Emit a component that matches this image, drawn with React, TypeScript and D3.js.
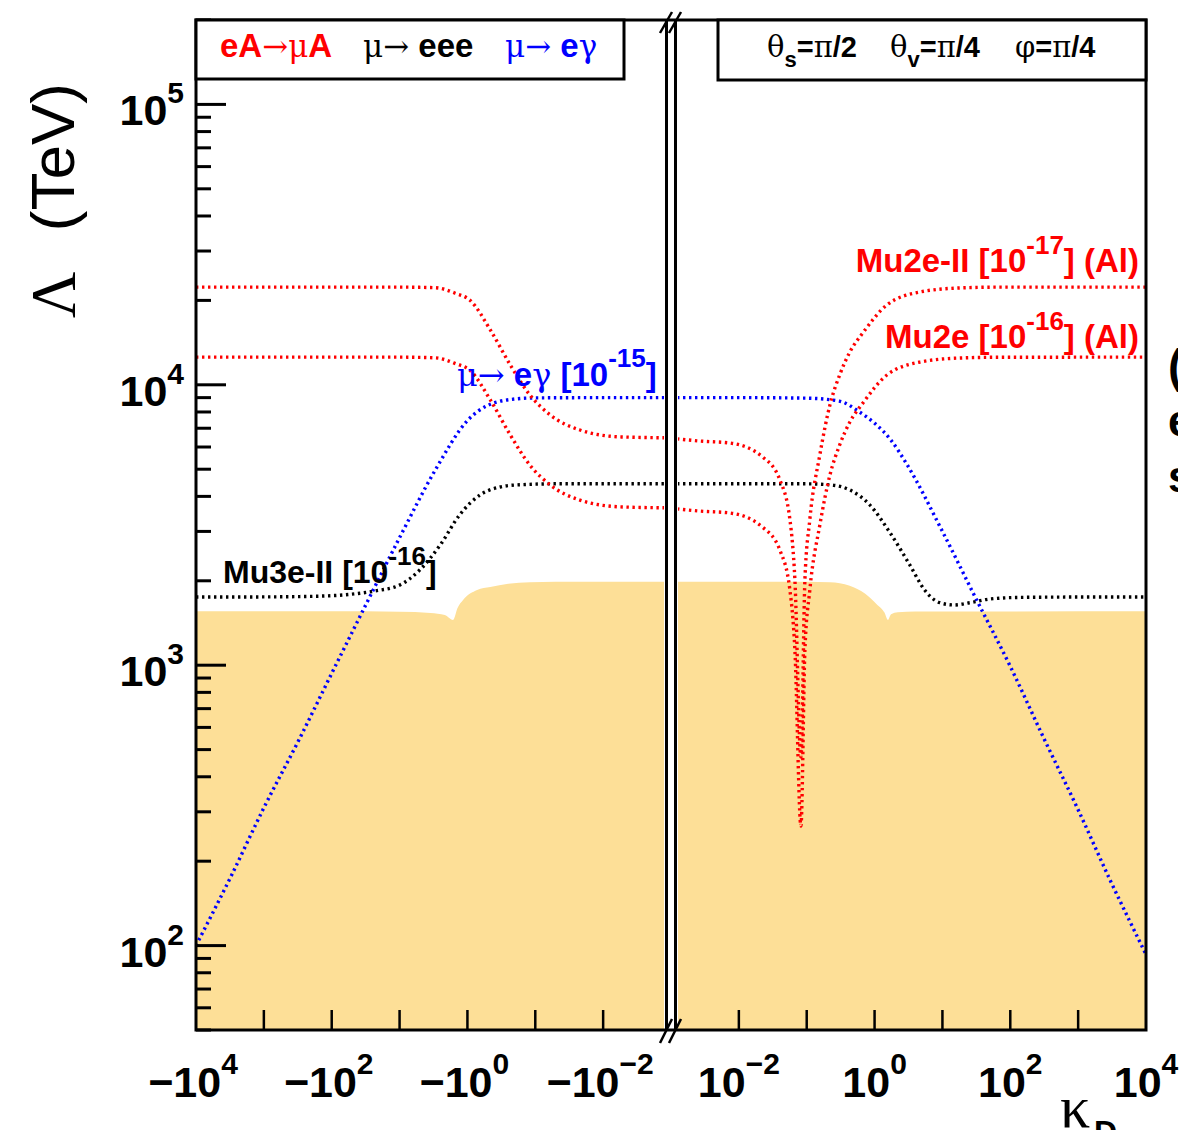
import React from 'react';
import * as d3 from 'd3';

// ---------- data (kappa_D, Lambda in TeV) ----------
const muEgammaLeft: [number, number][] = [
  [-1e4, 100], [-3e3, 178], [-1e3, 310], [-3e2, 545], [-1e2, 935], [-30, 1680], [-10, 2850],
  [-3, 4950], [-1, 7450], [-0.5, 8450], [-0.2, 8900], [-0.1, 8980], [-0.01, 9000], [-1e-3, 9000],
];
const muEgammaRight: [number, number][] = [
  [1e-3, 9000], [0.01, 9000], [0.1, 8960], [0.3, 8750], [0.6, 8000], [1, 7300], [1.7, 6400],
  [3, 5200], [10, 3000], [30, 1760], [100, 990], [300, 560], [1e3, 305], [3e3, 170], [1e4, 93],
];
const mu3eLeft: [number, number][] = [
  [-1e4, 1750], [-1e3, 1752], [-200, 1760], [-53, 1790], [-23, 1840], [-10, 1930], [-5, 2190],
  [-2.5, 2690], [-1.3, 3440], [-0.65, 4050], [-0.33, 4320], [-0.17, 4400], [-0.05, 4435], [-1e-3, 4440],
];
const mu3eRight: [number, number][] = [
  [1e-3, 4440], [0.1, 4435], [0.25, 4380], [0.43, 4220], [0.85, 3730], [1.7, 2960], [3.3, 2280],
  [5.5, 1850], [9.2, 1670], [15, 1640], [25, 1670], [50, 1722], [140, 1745], [1e3, 1750], [1e4, 1750],
];
const mu2eIILeft: [number, number][] = [
  [-1e4, 22300], [-10, 22300], [-3, 22200], [-1.5, 21200], [-0.91, 20000], [-0.46, 15700],
  [-0.235, 11800], [-0.12, 9200], [-0.06, 7800], [-0.022, 6900], [-0.0056, 6520], [-1e-3, 6470],
];
const mu2eIIRight: [number, number][] = [
  [1e-3, 6450], [0.00267, 6300], [0.0074, 6200], [0.0226, 5520], [0.0403, 4570], [0.0566, 3300],
  [0.067, 2010], [0.0822, 470], [0.094, 2010], [0.111, 3300], [0.156, 5620], [0.22, 8480],
  [0.306, 10840], [0.433, 13100], [0.67, 15300], [1.52, 19270], [4.65, 21430], [18, 22150],
  [70, 22300], [1e4, 22300],
];
const mu2eLeft: [number, number][] = [
  [-1e4, 12550], [-10, 12550], [-3, 12480], [-1.5, 11900], [-0.91, 11250], [-0.46, 8830],
  [-0.235, 6640], [-0.12, 5170], [-0.06, 4390], [-0.022, 3880], [-0.0056, 3670], [-1e-3, 3640],
];
const mu2eRight: [number, number][] = [
  [1e-3, 3630], [0.00267, 3545], [0.0074, 3490], [0.0226, 3100], [0.0403, 2570], [0.0566, 1850],
  [0.067, 1130], [0.0822, 267], [0.094, 1130], [0.111, 1850], [0.156, 3160], [0.22, 4770],
  [0.306, 6100], [0.433, 7370], [0.67, 8600], [1.52, 10840], [4.65, 12050], [18, 12460],
  [70, 12540], [1e4, 12550],
];
const excludedLeft: [number, number][] = [
  [-1e4, 1556], [-100, 1556], [-10, 1552], [-3.5, 1535], [-2.15, 1510], [-1.63, 1450], [-1.4, 1600],
  [-1.16, 1708], [-0.72, 1853], [-0.46, 1900], [-0.25, 1950], [-0.12, 1975], [-0.05, 1985], [-1e-3, 1986],
];
const excludedRight: [number, number][] = [
  [1e-3, 1986], [0.1, 1985], [0.22, 1975], [0.43, 1920], [0.72, 1800], [1.1, 1640], [1.4, 1540],
  [1.57, 1450], [1.75, 1520], [2.2, 1545], [4, 1554], [1e4, 1556],
];

const yMajor = [1e2, 1e3, 1e4, 1e5];
const yMajorExp = ['2', '3', '4', '5'];
const xMajorNeg = [1e3, 1e2, 1e1, 1e0, 1e-1, 1e-2];
const xMajorPos = [1e-2, 1e-1, 1e0, 1e1, 1e2, 1e3];
const xLabelNeg = [[1e4, '4'], [1e2, '2'], [1e0, '0'], [1e-2, '−2']] as [number, string][];
const xLabelPos = [[1e-2, '−2'], [1e0, '0'], [1e2, '2'], [1e4, '4']] as [number, string][];

const SANS = "'Liberation Sans', Arial, Helvetica, sans-serif";
const SERIF = "'Liberation Serif', 'DejaVu Serif', serif";
const SYM = "'DejaVu Serif', 'Liberation Serif', serif";
const FILL = '#fddf97';

export default function App() {
  const L = 196, R = 1146, T = 20, B = 1030, BX = 671;
  const xNeg = d3.scaleLog().domain([1e4, 1e-3]).range([L, BX]);
  const xPos = d3.scaleLog().domain([1e-3, 1e4]).range([BX, R]);
  const xs = (k: number) => (k < 0 ? xNeg(-k) : xPos(k));
  const y = d3.scaleLog().domain([50, 2e5]).range([B, T]);

  const line = d3.line<[number, number]>().x(d => xs(d[0])).y(d => y(d[1])).curve(d3.curveMonotoneX);
  const area = d3.area<[number, number]>().x(d => xs(d[0])).y0(B).y1(d => y(d[1])).curve(d3.curveMonotoneX);

  const minorY: number[] = [];
  for (let e = 1; e <= 5; e++) for (let m = 2; m <= 9; m++) {
    const v = m * Math.pow(10, e);
    if (v >= 50 && v <= 2e5) minorY.push(v);
  }

  const dot = { fill: 'none', strokeWidth: 3.4, strokeDasharray: '2.4 3.6' };
  const curves: [[number, number][], string][] = [
    [muEgammaLeft, '#0000ff'], [muEgammaRight, '#0000ff'],
    [mu3eLeft, '#000'], [mu3eRight, '#000'],
    [mu2eIILeft, '#ff0000'], [mu2eIIRight, '#ff0000'],
    [mu2eLeft, '#ff0000'], [mu2eRight, '#ff0000'],
  ];

  return (
    <svg width={1195} height={1130} style={{ position: 'absolute', left: 0, top: 0, background: '#fff' }}
      fontFamily={SANS}>
      <defs>
        <clipPath id="plot"><rect x={L} y={T} width={R - L} height={B - T} /></clipPath>
        <clipPath id="edge"><rect x={1150} y={300} width={28} height={250} /></clipPath>
      </defs>
      <rect x={0} y={0} width={1195} height={1130} fill="#fff" />
      <g clipPath="url(#plot)">
        <path d={area(excludedLeft) || ''} fill={FILL} />
        <path d={area(excludedRight) || ''} fill={FILL} />
        {curves.map(([data, c], i) => (
          <path key={i} d={line(data) || ''} stroke={c} {...dot} />
        ))}
      </g>
      {/* axis break */}
      <rect x={664} y={T} width={14} height={B - T} fill="#fff" />
      <line x1={666.5} x2={666.5} y1={T} y2={B} stroke="#000" strokeWidth={3} />
      <line x1={675.5} x2={675.5} y1={T} y2={B} stroke="#000" strokeWidth={3} />
      {[0, 9].map(o => (
        <g key={o}>
          <line x1={660 + o} y1={33} x2={672 + o} y2={12} stroke="#000" strokeWidth={2.5} />
          <line x1={660 + o} y1={1043} x2={672 + o} y2={1019} stroke="#000" strokeWidth={2.5} />
        </g>
      ))}
      {/* frame */}
      <rect x={L} y={T} width={R - L} height={B - T} fill="none" stroke="#000" strokeWidth={3} />
      {/* y ticks */}
      {yMajor.map(v => <line key={'M' + v} x1={L} x2={L + 30} y1={y(v)} y2={y(v)} stroke="#000" strokeWidth={3} />)}
      {minorY.map(v => <line key={'m' + v} x1={L} x2={L + 15} y1={y(v)} y2={y(v)} stroke="#000" strokeWidth={3} />)}
      {yMajor.map((v, i) => (
        <text key={'yl' + v} x={184} y={y(v) + 21} textAnchor="end" fontSize={43} fontWeight="bold">
          10<tspan dy={-22} fontSize={30}>{yMajorExp[i]}</tspan>
        </text>
      ))}
      {/* x ticks */}
      {xMajorNeg.map(v => <line key={'xn' + v} x1={xs(-v)} x2={xs(-v)} y1={B} y2={B - 20} stroke="#000" strokeWidth={2.5} />)}
      {xMajorPos.map(v => <line key={'xp' + v} x1={xs(v)} x2={xs(v)} y1={B} y2={B - 20} stroke="#000" strokeWidth={2.5} />)}
      {xLabelNeg.map(([v, e]) => (
        <text key={'xln' + v} x={xs(-v) - 3} y={1097} textAnchor="middle" fontSize={43} fontWeight="bold">
          −10<tspan dy={-23} fontSize={30}>{e}</tspan>
        </text>
      ))}
      {xLabelPos.map(([v, e]) => (
        <text key={'xlp' + v} x={xs(v)} y={1097} textAnchor="middle" fontSize={43} fontWeight="bold">
          10<tspan dy={-23} fontSize={30}>{e}</tspan>
        </text>
      ))}
      {/* legend boxes */}
      <rect x={L} y={T} width={624 - L} height={59} fill="#fff" stroke="#000" strokeWidth={3} />
      <rect x={718} y={T} width={R - 718} height={60} fill="#fff" stroke="#000" strokeWidth={3} />
      <text y={57} fontSize={33}>
        <tspan x={220} fill="#ff0000" fontWeight="bold">eA</tspan>
        <tspan fill="#ff0000" fontFamily={SYM} fontSize={31}>→μ</tspan>
        <tspan fill="#ff0000" fontWeight="bold">A</tspan>
        <tspan x={363} fill="#000" fontFamily={SYM} fontSize={31}>μ→</tspan>
        <tspan fill="#000" fontWeight="bold"> eee</tspan>
        <tspan x={505} fill="#0000ff" fontFamily={SYM} fontSize={31}>μ→</tspan>
        <tspan fill="#0000ff" fontWeight="bold"> e</tspan>
        <tspan fill="#0000ff" fontFamily={SYM} fontSize={31}>γ</tspan>
      </text>
      <text y={57} fontSize={29} fill="#000">
        <tspan x={767} fontFamily={SYM} fontSize={29}>θ</tspan>
        <tspan dy={10} fontWeight="bold" fontSize={22}>s</tspan>
        <tspan dy={-10} fontWeight="bold">=</tspan>
        <tspan fontFamily={SYM} fontSize={29}>π</tspan>
        <tspan fontWeight="bold">/2</tspan>
        <tspan x={890} fontFamily={SYM} fontSize={29}>θ</tspan>
        <tspan dy={10} fontWeight="bold" fontSize={22}>v</tspan>
        <tspan dy={-10} fontWeight="bold">=</tspan>
        <tspan fontFamily={SYM} fontSize={29}>π</tspan>
        <tspan fontWeight="bold">/4</tspan>
        <tspan x={1015} fontFamily={SYM} fontSize={29}>φ</tspan>
        <tspan fontWeight="bold">=</tspan>
        <tspan fontFamily={SYM} fontSize={29}>π</tspan>
        <tspan fontWeight="bold">/4</tspan>
      </text>
      {/* curve labels */}
      <text x={1139} y={272} textAnchor="end" fontSize={33} fontWeight="bold" fill="#ff0000">
        Mu2e-II [10<tspan dy={-18} fontSize={26}>-17</tspan><tspan dy={18}>] (Al)</tspan>
      </text>
      <text x={1139} y={348} textAnchor="end" fontSize={33} fontWeight="bold" fill="#ff0000">
        Mu2e [10<tspan dy={-18} fontSize={26}>-16</tspan><tspan dy={18}>] (Al)</tspan>
      </text>
      <text x={223} y={583} fontSize={32} fontWeight="bold" fill="#000">
        Mu3e-II [10<tspan dy={-18} fontSize={26}>-16</tspan><tspan dy={18}>]</tspan>
      </text>
      <text x={457} y={386} fontSize={33} fill="#0000ff">
        <tspan fontFamily={SYM} fontSize={32}>μ→</tspan>
        <tspan fontWeight="bold"> e</tspan>
        <tspan fontFamily={SYM} fontSize={32}>γ</tspan>
        <tspan fontWeight="bold"> [10</tspan>
        <tspan dy={-19} fontSize={26} fontWeight="bold">-15</tspan>
        <tspan dy={19} fontWeight="bold">]</tspan>
      </text>
      {/* axis titles */}
      <text transform="translate(74,83) rotate(-90)" textAnchor="end" fontSize={62}>(TeV)</text>
      <text transform="translate(75,318) rotate(-90)" fontSize={64} fontFamily={SERIF}>Λ</text>
      <text x={1060} y={1127} fontSize={60} fontFamily={SERIF}>κ</text>
      <text x={1094} y={1143} fontSize={32} fontWeight="bold">D</text>
      {/* cut-off neighbouring text at the right edge */}
      <g clipPath="url(#edge)">
        <text x={1168} y={382} fontSize={46} fontWeight="bold">(</text>
        <text x={1168} y={436} fontSize={44} fontWeight="bold">e</text>
        <text x={1168} y={492} fontSize={44} fontWeight="bold">s</text>
      </g>
    </svg>
  );
}
